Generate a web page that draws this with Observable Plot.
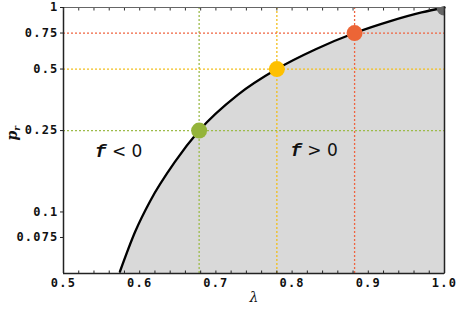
<!DOCTYPE html>
<html><head><meta charset="utf-8">
<script src="https://cdn.jsdelivr.net/npm/d3@7"></script>
<script src="https://cdn.jsdelivr.net/npm/@observablehq/plot@0.6"></script>
<style>
body{margin:0;background:#fff;}
svg{font-family:"DejaVu Sans Mono",monospace;}
.ticklab text{letter-spacing:1.2px;}
</style></head>
<body><div id="chart"></div>
<script>
// Curve samples
const curveLambda = [0.574, 0.594, 0.614, 0.6457, 0.678, 0.7287, 0.78, 0.831, 0.882, 0.929, 0.97, 1.0];
const curvePr     = [0.051, 0.080, 0.1135, 0.1746, 0.25, 0.374, 0.5, 0.625, 0.75, 0.858, 0.946, 1.0];
// Highlighted points
const pointLambda = [0.678, 0.78, 0.882, 1.0];
const pointPr     = [0.25, 0.5, 0.75, 1.0];
const pointColor  = ["#94b43a", "#fec000", "#ec6536", "#666666"];
const guideColor  = ["#9dbb4a", "#f2bf1c", "#ef6440"];
// Axis ticks
const xTicks = [0.5, 0.6, 0.7, 0.8, 0.9, 1.0];
const xMinor = d3.range(0.5, 1.0001, 0.02);
const yTicks = [0.075, 0.1, 0.25, 0.5, 0.75, 1];
const yTickLabels = ["0.075", "0.1", "0.25", "0.5", "0.75", "1"];
const yDomain = [0.05, 1];
// Region labels
const regionLambda = [0.5725, 0.829];
const regionPr = [0.197, 0.2];
const regionText = ["f < 0", "f > 0"];

const curve = curveLambda.map((l, i) => ({l, p: curvePr[i]}));
const points = pointLambda.map((l, i) => ({l, p: pointPr[i], c: pointColor[i]}));
const guides = points.slice(0, 3).map((d, i) => ({...d, c: guideColor[i]}));
const regions = regionText.map((t, i) => ({l: regionLambda[i], p: regionPr[i], t}));
const yLabs = yTicks.map((v, i) => ({v, t: yTickLabels[i]}));

const chart = Plot.plot({
  width: 458, height: 309,
  marginLeft: 63, marginRight: 14, marginTop: 7, marginBottom: 36,
  style: {fontFamily: "DejaVu Sans Mono", color: "#111", background: "#fff"},
  x: {domain: [0.5, 1.0]},
  y: {type: "log", domain: yDomain},
  marks: [
    Plot.areaY(curve, {x: "l", y1: yDomain[0], y2: "p", fill: "#d9d9d9", curve: "monotone-x"}),
    Plot.ruleX(guides, {x: "l", stroke: "c", strokeDasharray: "2,2", strokeWidth: 1.3}),
    Plot.ruleY(guides, {y: "p", stroke: "c", strokeDasharray: "2,2", strokeWidth: 1.3}),
    Plot.line(curve, {x: "l", y: "p", stroke: "#000", strokeWidth: 2.3, curve: "monotone-x"}),
    Plot.dot(points, {x: "l", y: "p", fill: "c", r: 8, clip: true}),
    Plot.text(regions, {x: "l", y: "p", text: "t", textAnchor: "middle", fontSize: 17, fill: "#111",
      fontFamily: "DejaVu Sans", className: "region"}),
    Plot.frame({stroke: "#666", strokeWidth: 1}),
    Plot.ruleX([0.5], {stroke: "#222", strokeWidth: 1.5}),
    Plot.ruleX([1.0], {stroke: "#222", strokeWidth: 1.5}),
    Plot.ruleY([yDomain[0]], {stroke: "#222", strokeWidth: 1.5}),
    Plot.axisX({ticks: xTicks, tickSize: 0, tickPadding: 5, tickFormat: d => d.toFixed(1),
      fontSize: 12, fontWeight: "bold", className: "ticklab",
      label: "λ", labelAnchor: "center", labelArrow: "none", labelOffset: 28}),
    Plot.axisX({ticks: xMinor, tickSize: -2.5, tickFormat: () => "", label: null, stroke: "#222"}),
    Plot.axisX({ticks: xMinor, anchor: "top", tickSize: -2.5, tickFormat: () => "", label: null, stroke: "#333"}),
    Plot.axisY({ticks: yTicks, tickSize: 3, tickFormat: () => "", label: null, stroke: "#222"}),
    Plot.text(yLabs, {y: "v", text: "t", frameAnchor: "left", dx: -5, textAnchor: "end",
      fontSize: 12, fontWeight: "bold", fill: "#111", className: "ticklab"}),
    Plot.text(["p"], {frameAnchor: "left", dx: -51, rotate: -90, text: d => d, className: "ylab",
      fontSize: 14, fontWeight: "bold", fontStyle: "italic", fontFamily: "DejaVu Serif"})
  ]
});
document.getElementById("chart").appendChild(chart);

const svg = d3.select(chart);
// region labels: italic bold f
svg.selectAll(".region text").each(function() {
  const t = d3.select(this);
  const s = t.text();
  t.text(null);
  t.append("tspan").text(s.slice(0, 1)).attr("font-family", "Liberation Mono").attr("font-weight", "bold").attr("font-style", "italic").attr("font-size", 19);
  t.append("tspan").text(s.slice(1));
});
// y label with subscript r
svg.selectAll(".ylab text").each(function() {
  const t = d3.select(this);
  t.append("tspan").text("r").attr("font-size", 9).attr("dy", "0.3em");
});
// x label style
svg.selectAll("[aria-label='x-axis label'] text").attr("font-family", "DejaVu Serif").attr("font-style", "italic").attr("font-size", 14).attr("font-weight", "normal");
</script>
</body></html>
